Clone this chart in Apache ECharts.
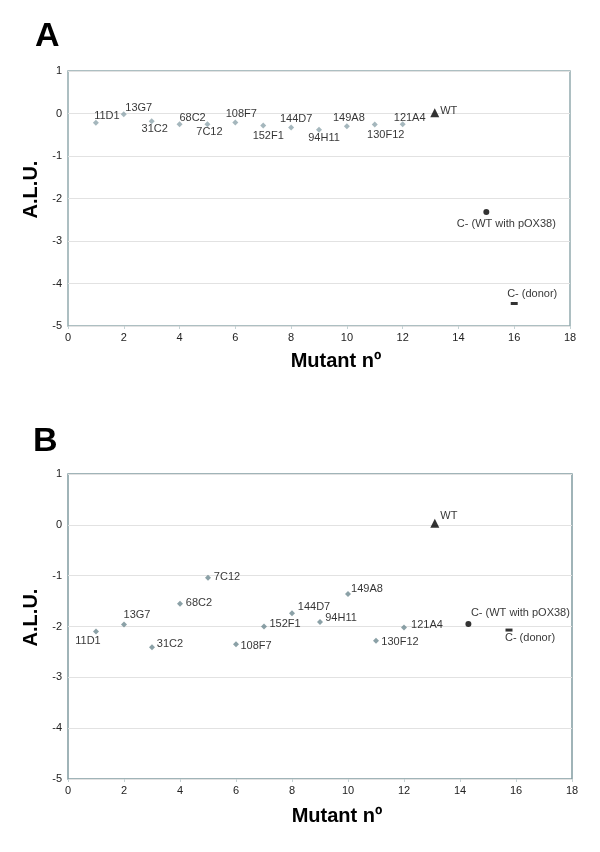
<!DOCTYPE html>
<html>
<head>
<meta charset="utf-8">
<script src="https://cdn.jsdelivr.net/npm/echarts@6/dist/echarts.min.js"></script>
<style>
html,body{margin:0;padding:0;background:#fff;}
#chart{width:600px;height:852px;}
</style>
</head>
<body>
<div id="chart"></div>
<script>
// ---- data ----
var mutants = ['11D1','13G7','31C2','68C2','7C12','108F7','152F1','144D7','94H11','149A8','130F12','121A4'];
var mutantNo = [1,2,3,4,5,6,7,8,9,10,11,12];
var aluA = [-0.22,-0.02,-0.18,-0.25,-0.25,-0.21,-0.28,-0.33,-0.38,-0.30,-0.26,-0.25];
var aluB = [-2.10,-1.96,-2.41,-1.55,-1.04,-2.35,-2.00,-1.74,-1.91,-1.36,-2.28,-2.02];
var controlNames = ['WT','C- (WT with pOX38)','C- (donor)'];
var controlXA = [13.15, 15.0, 16.0];
var controlYA = [0.02, -2.32, -4.47];
var controlXB = [13.1, 14.3, 15.75];
var controlYB = [0.03, -1.95, -2.07];
var xTicks = [0,2,4,6,8,10,12,14,16,18];
var yTicks = [-5,-4,-3,-2,-1,0,1];

// ---- label layout (styling only) ----
var offA = [[11,-7],[15,-6],[3,8],[13,-6],[2,8],[6,-8],[5,11],[5,-9],[5,8],[2,-8],[11,10],[7,-6]];
var offB = [[-8,9],[13,-9],[18,-3],[19,-1],[19,-1],[20,2],[21,-3],[22,-6],[21,-4],[19,-5],[24,1],[23,-3]];
var ctrlOffA = [[14,-2],[20,12],[18,-10]];
var ctrlOffB = [[14,-7],[52,-11],[21,8]];

var FONT = "'Liberation Sans', Arial, sans-serif";

function mutantData(ys, offs){
  return mutants.map(function(n,i){
    return {name:n, value:[mutantNo[i], ys[i]], label:{offset:offs[i]}};
  });
}
function ctrlItem(i, xs, ys, offs){
  return [{name:controlNames[i], value:[xs[i], ys[i]], label:{offset:offs[i]}}];
}
var lbl = {show:true, position:'inside', align:'center', verticalAlign:'middle',
  formatter:'{b}', color:'#000', fontSize:11, fontFamily:FONT};

function axes(gi, nameGapX){
  return {
    x:{gridIndex:gi, type:'value', min:xTicks[0], max:xTicks[xTicks.length-1], interval:2,
      name:'Mutant nº', nameLocation:'middle', nameGap:nameGapX,
      nameTextStyle:{fontSize:20, fontWeight:'bold', color:'#000', fontFamily:FONT, padding:[0,0,0,34]},
      axisLine:{show:false, onZero:false}, axisTick:{show:true, length:3, lineStyle:{color:'#c5d2d4'}},
      splitLine:{show:false},
      axisLabel:{fontSize:11, color:'#222', fontFamily:FONT, margin:6}},
    y:{gridIndex:gi, type:'value', min:yTicks[0], max:yTicks[yTicks.length-1], interval:1,
      name:'A.L.U.', nameLocation:'middle', nameGap:24,
      nameTextStyle:{fontSize:20, fontWeight:'bold', color:'#000', fontFamily:FONT, padding:[0,0,0,18]},
      axisLine:{show:false, onZero:false}, axisTick:{show:false},
      splitLine:{show:true, lineStyle:{color:'#e2e2e2', width:1}},
      axisLabel:{fontSize:11, color:'#222', fontFamily:FONT, margin:6}}
  };
}
var aA = axes(0, 25), aB = axes(1, 27);

var chart = echarts.init(document.getElementById('chart'), null, {renderer:'canvas'});
chart.setOption({
  backgroundColor:'#fff',
  animation:false,
  graphic:[
    {type:'text', left:35, top:20, style:{text:'A', font:'bold 34px '+FONT, fill:'#000'}},
    {type:'text', left:33, top:425, style:{text:'B', font:'bold 34px '+FONT, fill:'#000'}}
  ],
  grid:[
    {left:68, top:71, width:502, height:255, show:true, borderColor:'#93abaf', borderWidth:1.5, backgroundColor:'transparent'},
    {left:68, top:474, width:504, height:305, show:true, borderColor:'#819ca1', borderWidth:1.5, backgroundColor:'transparent'}
  ],
  xAxis:[aA.x, aB.x],
  yAxis:[aA.y, aB.y],
  series:[
    {type:'scatter', xAxisIndex:0, yAxisIndex:0, symbol:'diamond', symbolSize:6,
      itemStyle:{color:'#8fa5ac'}, label:lbl, data:mutantData(aluA, offA)},
    {type:'scatter', xAxisIndex:0, yAxisIndex:0, symbol:'triangle', symbolSize:9,
      itemStyle:{color:'#000'}, label:lbl, data:ctrlItem(0, controlXA, controlYA, ctrlOffA)},
    {type:'scatter', xAxisIndex:0, yAxisIndex:0, symbol:'circle', symbolSize:6,
      itemStyle:{color:'#000'}, label:lbl, data:ctrlItem(1, controlXA, controlYA, ctrlOffA)},
    {type:'scatter', xAxisIndex:0, yAxisIndex:0, symbol:'rect', symbolSize:[7,3],
      itemStyle:{color:'#000'}, label:lbl, data:ctrlItem(2, controlXA, controlYA, ctrlOffA)},

    {type:'scatter', xAxisIndex:1, yAxisIndex:1, symbol:'diamond', symbolSize:6,
      itemStyle:{color:'#6e8a91'}, label:lbl, data:mutantData(aluB, offB)},
    {type:'scatter', xAxisIndex:1, yAxisIndex:1, symbol:'triangle', symbolSize:9,
      itemStyle:{color:'#000'}, label:lbl, data:ctrlItem(0, controlXB, controlYB, ctrlOffB)},
    {type:'scatter', xAxisIndex:1, yAxisIndex:1, symbol:'circle', symbolSize:6,
      itemStyle:{color:'#000'}, label:lbl, data:ctrlItem(1, controlXB, controlYB, ctrlOffB)},
    {type:'scatter', xAxisIndex:1, yAxisIndex:1, symbol:'rect', symbolSize:[7,3],
      itemStyle:{color:'#000'}, label:lbl, data:ctrlItem(2, controlXB, controlYB, ctrlOffB)}
  ]
});
</script>
</body>
</html>
